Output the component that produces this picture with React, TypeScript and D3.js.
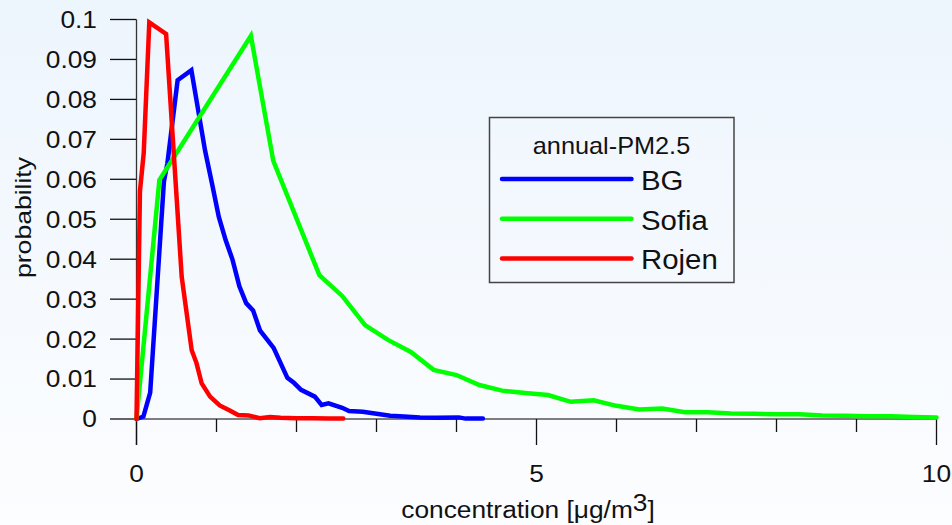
import React from "react";
import * as d3 from "d3";

const W = 952;
const H = 525;

// BG series (concentration, probability)
const bgX = [0, 0.086, 0.171, 0.343, 0.386, 0.514, 0.686, 0.857, 0.943, 1.029, 1.114, 1.2, 1.286, 1.371, 1.457, 1.543, 1.714, 1.886, 1.971, 2.057, 2.229, 2.314, 2.4, 2.571, 2.657, 2.829, 3.0, 3.171, 3.343, 3.543, 3.757, 4.029, 4.114, 4.33];
const bgY = [0, 0.0006, 0.0066, 0.0595, 0.064, 0.0848, 0.0873, 0.0672, 0.059, 0.0506, 0.0448, 0.0399, 0.0332, 0.029, 0.0272, 0.0222, 0.0178, 0.0103, 0.009, 0.0073, 0.0056, 0.0035, 0.0039, 0.0028, 0.002, 0.0018, 0.0013, 0.0008, 0.0006, 0.0004, 0.0003, 0.0004, 0.0001, 0.0001];

// Sofia series
const sofiaX = [0, 0.286, 1.43, 1.71, 2.286, 2.571, 2.857, 3.143, 3.429, 3.714, 4.0, 4.286, 4.571, 4.857, 5.143, 5.429, 5.714, 6.0, 6.286, 6.571, 6.857, 7.143, 7.429, 7.714, 8.0, 8.286, 8.571, 8.857, 9.143, 9.429, 9.714, 10.0];
const sofiaY = [0, 0.0598, 0.0959, 0.0646, 0.036, 0.0308, 0.0235, 0.0198, 0.0168, 0.0123, 0.011, 0.0085, 0.0071, 0.0065, 0.006, 0.0043, 0.0047, 0.0033, 0.0024, 0.0026, 0.0017, 0.0017, 0.0014, 0.0013, 0.0012, 0.0012, 0.0009, 0.0008, 0.0007, 0.0007, 0.0005, 0.0004];

// Rojen series
const rojenX = [0, 0.043, 0.09, 0.16, 0.37, 0.565, 0.69, 0.75, 0.815, 0.92, 1.04, 1.16, 1.27, 1.4, 1.54, 1.67, 1.8, 2.0, 2.2, 2.4, 2.585];
const rojenY = [0, 0.057, 0.0665, 0.0993, 0.0964, 0.0356, 0.0172, 0.014, 0.0089, 0.0056, 0.0034, 0.0022, 0.001, 0.0009, 0.0002, 0.0005, 0.0003, 0.0002, 0.0002, 0.0001, 0.0001];

const yTicks = [0, 0.01, 0.02, 0.03, 0.04, 0.05, 0.06, 0.07, 0.08, 0.09, 0.1];
const yTickLabels = ["0", "0.01", "0.02", "0.03", "0.04", "0.05", "0.06", "0.07", "0.08", "0.09", "0.1"];
const xMinorTicks = [1, 2, 3, 4, 6, 7, 8, 9];
const xMajorTicks = [0, 5, 10];
const xTickLabels = ["0", "5", "10"];

const seriesNames = ["BG", "Sofia", "Rojen"];
const seriesColors = ["#0000ff", "#00ff00", "#ff0000"];
const legendTitle = "annual-PM2.5";

const FONT = "'Liberation Sans', Arial, Helvetica, sans-serif";
const SX = 1.12;
const FS = 23.5;

export default function App() {
  const x = d3.scaleLinear().domain([0, 10]).range([136.5, 936.5]);
  const y = d3.scaleLinear().domain([0, 0.1]).range([419, 19.5]);

  const series = [
    bgX.map((v, i) => [v, bgY[i]] as [number, number]),
    sofiaX.map((v, i) => [v, sofiaY[i]] as [number, number]),
    rojenX.map((v, i) => [v, rojenY[i]] as [number, number]),
  ];
  const line = d3
    .line<[number, number]>()
    .x((d) => x(d[0]))
    .y((d) => y(d[1]));

  const x0 = x(0);
  const y0 = y(0);

  return (
    <svg
      width={W}
      height={H}
      style={{ position: "absolute", left: 0, top: 0, display: "block" }}
      fontFamily={FONT}
    >
      <defs>
        <linearGradient id="bg" x1="0" y1="0" x2="0" y2="1">
          <stop offset="0" stopColor="#edf5fd" />
          <stop offset="1" stopColor="#fcfdff" />
        </linearGradient>
      </defs>
      <rect x={0} y={0} width={W} height={H} fill="url(#bg)" />

      {/* y axis ticks and labels */}
      {yTicks.map((t, i) => (
        <g key={"yt" + i}>
          <line x1={110} x2={x0} y1={y(t)} y2={y(t)} stroke="#111" strokeWidth={1.3} />
          <text
            transform={`translate(97,${y(t) + 8.4}) scale(${SX},1)`}
            textAnchor="end"
            fontSize={FS}
            fill="#111"
          >
            {yTickLabels[i]}
          </text>
        </g>
      ))}
      <line x1={x0} x2={x0} y1={y(0.1)} y2={445} stroke="#333" strokeWidth={1.3} />

      {/* x axis */}
      <line x1={x0} x2={x(10)} y1={y0} y2={y0} stroke="#555" strokeWidth={1.3} />
      {xMinorTicks.map((t) => (
        <line key={"xm" + t} x1={x(t)} x2={x(t)} y1={y0} y2={432} stroke="#111" strokeWidth={1.3} />
      ))}
      {xMajorTicks.map((t, i) => (
        <g key={"xM" + t}>
          <line x1={x(t)} x2={x(t)} y1={y0} y2={445} stroke="#111" strokeWidth={1.3} />
          <text
            transform={`translate(${x(t)},482) scale(${SX},1)`}
            textAnchor="middle"
            fontSize={FS}
            fill="#111"
          >
            {xTickLabels[i]}
          </text>
        </g>
      ))}

      {/* axis titles */}
      <text
        transform={`translate(528,518) scale(${SX},1)`}
        textAnchor="middle"
        fontSize={FS}
        fill="#111"
      >
        concentration [μg/m
        <tspan dy={-7}>3</tspan>
        <tspan dy={7}>]</tspan>
      </text>
      <text
        transform={`translate(31,217.5) rotate(-90) scale(1.18,1)`}
        textAnchor="middle"
        fontSize={22.5}
        fill="#111"
      >
        probability
      </text>

      {/* series */}
      {series.map((s, i) => (
        <path
          key={"s" + i}
          d={line(s) || ""}
          fill="none"
          stroke={seriesColors[i]}
          strokeWidth={4.5}
          strokeLinejoin="miter"
          strokeLinecap="round"
        />
      ))}

      {/* legend */}
      <rect x={489.5} y={117.5} width={244.5} height={165} fill="none" stroke="#444" strokeWidth={1.5} />
      <text
        transform={`translate(611.5,154) scale(1.1,1)`}
        textAnchor="middle"
        fontSize={23}
        fill="#111"
      >
        {legendTitle}
      </text>
      {seriesNames.map((n, i) => {
        const ly = 179 + i * 39.7;
        return (
          <g key={"lg" + i}>
            <line x1={502} x2={631.5} y1={ly} y2={ly} stroke={seriesColors[i]} strokeWidth={4.5} strokeLinecap="round" />
            <text transform={`translate(641,${ly + 11}) scale(1.05,1)`} fontSize={28} fill="#111">
              {n}
            </text>
          </g>
        );
      })}
    </svg>
  );
}
